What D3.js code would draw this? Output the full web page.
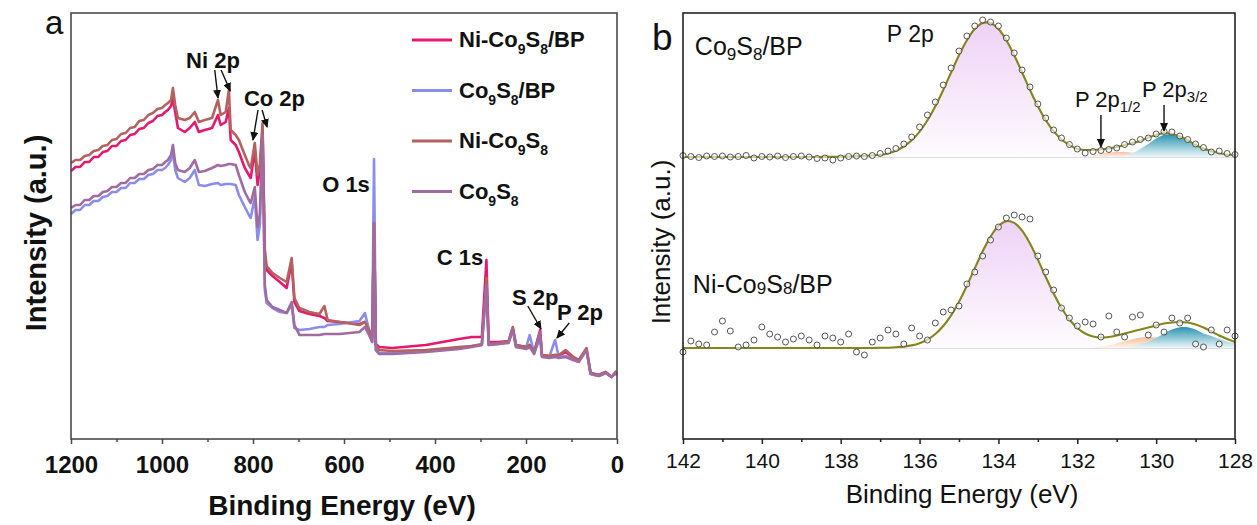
<!DOCTYPE html>
<html>
<head>
<meta charset="utf-8">
<script src="https://cdn.jsdelivr.net/npm/d3@7.9.0/dist/d3.min.js"></script>
<style>
  body { margin: 0; background: #fff; }
  svg text { font-family: 'Liberation Sans', Arial, sans-serif; }
</style>
</head>
<body>
<svg id="chart" width="1257" height="525"></svg>
<script>
// ---------- panel a: survey spectra ----------
const surveyEnergy = [
  1200, 1190, 1180, 1170, 1160, 1150, 1140, 1130, 1120, 1110,
  1100, 1090, 1080, 1070, 1060, 1050, 1040, 1030, 1020, 1010,
  1000, 993, 987, 980, 976, 971, 965, 950, 939, 928,
  919, 906, 890, 877, 871, 860, 853, 849, 838, 831,
  818, 809, 805, 796, 790, 785, 779, 774, 770, 757,
  741, 726, 715, 709, 698, 676, 654, 643, 636, 610,
  566, 554, 545, 538, 534, 530, 523, 494, 420, 347,
  319, 297, 287, 282, 260, 238, 229, 222, 200, 192,
  182, 169, 165, 149, 136, 128, 113, 96, 84, 67,
  58, 40, 25, 12, 3, 0
];
const niCoBP = [
  268, 272, 272, 277, 277, 282, 282, 287, 288, 293,
  293, 298, 299, 304, 305, 310, 311, 316, 318, 323,
  324, 327, 329, 333, 341, 327, 311, 307, 311, 317,
  307, 309, 311, 324, 314, 317, 331, 299, 294, 287,
  271, 264, 261, 289, 254, 269, 309, 184, 169, 163,
  157, 151, 177, 137, 128, 125, 123, 121, 118, 117,
  115, 117, 109, 101, 216, 95, 92, 91, 94, 100,
  102, 102, 179, 97, 97, 98, 111, 94, 92, 94,
  87, 109, 84, 83, 84, 83, 87, 81, 79, 89,
  66, 64, 67, 62, 67, 64
];
const coBP = [
  225, 229, 229, 234, 234, 238, 238, 242, 243, 247,
  247, 251, 251, 256, 256, 260, 260, 264, 265, 269,
  269, 271, 274, 279, 289, 269, 261, 257, 261, 269,
  254, 253, 255, 256, 254, 255, 255, 255, 254, 244,
  232, 224, 221, 242, 199, 214, 299, 149, 136, 131,
  127, 126, 135, 111, 109, 110, 112, 112, 114, 115,
  118, 126, 109, 97, 280, 89, 86, 86, 88, 91,
  93, 94, 154, 94, 95, 97, 109, 92, 91, 104,
  86, 101, 83, 82, 99, 82, 83, 79, 78, 89,
  65, 63, 66, 62, 66, 64
];
const niCo = [
  276, 279, 279, 283, 284, 288, 289, 293, 294, 299,
  300, 305, 306, 311, 312, 318, 319, 324, 326, 330,
  331, 334, 336, 339, 351, 334, 321, 319, 321, 327,
  317, 319, 321, 339, 324, 327, 349, 309, 304, 299,
  284, 274, 271, 296, 264, 274, 316, 189, 173, 166,
  161, 157, 181, 141, 131, 127, 125, 133, 119, 117,
  114, 117, 109, 101, 216, 94, 89, 88, 89, 92,
  93, 95, 161, 95, 96, 98, 112, 94, 92, 94,
  87, 107, 84, 83, 84, 84, 89, 82, 79, 91,
  66, 64, 67, 62, 67, 64
];
const co = [
  231, 234, 234, 239, 239, 243, 243, 247, 248, 252,
  252, 256, 256, 261, 261, 265, 265, 269, 270, 274,
  274, 277, 279, 284, 294, 276, 269, 267, 271, 279,
  267, 268, 271, 274, 273, 274, 275, 275, 274, 264,
  247, 239, 236, 252, 212, 224, 304, 154, 139, 132,
  129, 126, 137, 114, 104, 104, 104, 105, 105, 105,
  107, 112, 104, 97, 216, 89, 85, 85, 87, 90,
  92, 94, 154, 94, 95, 96, 110, 92, 90, 92,
  85, 107, 82, 81, 82, 81, 82, 79, 77, 89,
  65, 63, 66, 62, 66, 64
];
const surveyNames = ['Ni-Co9S8/BP', 'Co9S8/BP', 'Ni-Co9S8', 'Co9S8'];
const surveyTicks = [1200, 1000, 800, 600, 400, 200, 0];
const surveyMinor = [1100, 900, 700, 500, 300, 100];

// ---------- panel b: P 2p high resolution ----------
const bindingE = [
  142, 141.8, 141.6, 141.4, 141.2, 141, 140.8, 140.6, 140.4, 140.2,
  140, 139.8, 139.6, 139.4, 139.2, 139, 138.8, 138.6,
  138.4, 138.2,
  138, 137.8, 137.6, 137.4, 137.2, 137, 136.8, 136.6, 136.4, 136.2,
  136, 135.8, 135.6, 135.4, 135.2, 135, 134.8, 134.6, 134.4, 134.2,
  134, 133.8, 133.6, 133.4, 133.2, 133, 132.8, 132.6, 132.4, 132.2,
  132, 131.8, 131.6, 131.4, 131.2, 131, 130.8, 130.6, 130.4, 130.2,
  130, 129.8, 129.6, 129.4, 129.2, 129, 128.8, 128.6, 128.4, 128.2,
  128
];
const topOffset = 282;
const botOffset = 91;
const topFit = [
  0, 0, 0, 0, 0, 0, 0, 0, 0, 0, 0, 0, 0, 0, 0, 0, 0, 0,
  0.1, 0.2,
  0.3, 0.5, 0.8, 1.2, 1.5, 2.2, 3.6, 6.3, 10.5, 16.7,
  25.4, 36.8, 50.8, 67, 84.5, 101.7, 116.8, 128, 134, 134,
  128, 116.8, 101.7, 84.5, 67, 50.8, 36.8, 25.8, 17.5, 12,
  8, 7, 7, 7.5, 8.5, 10, 12, 14, 16, 19.5,
  22, 24, 23, 20.5, 17, 12, 8.5, 6, 4, 2.5,
  2
];
const topMain = [
  0, 0, 0, 0, 0, 0, 0, 0, 0, 0, 0, 0, 0, 0, 0, 0, 0, 0,
  0.1, 0.2,
  0.3, 0.5, 0.8, 1.2, 1.5, 2.2, 3.6, 6.3, 10.5, 16.7,
  25.4, 36.8, 50.8, 67, 84.5, 101.7, 116.8, 128, 134, 134,
  128, 116.8, 101.7, 84.5, 67, 50.8, 36.8, 25.4, 16.7, 10.5,
  6.3, 3.6, 2, 1, 0.5, 0.2, 0, 0, 0, 0,
  0, 0, 0, 0, 0, 0, 0, 0, 0, 0,
  0
];
const topP12 = [
  0, 0, 0, 0, 0, 0, 0, 0, 0, 0, 0, 0, 0, 0, 0, 0, 0, 0,
  0, 0,
  0, 0, 0, 0, 0, 0, 0, 0, 0, 0,
  0, 0, 0, 0, 0, 0, 0, 0, 0, 0,
  0, 0, 0, 0, 0, 0, 0, 0, 0, 0,
  0, 0.5, 1.5, 3, 4.3, 5, 5, 4.2, 3, 1.8,
  0.9, 0.4, 0, 0, 0, 0, 0, 0, 0, 0,
  0
];
const topP32 = [
  0, 0, 0, 0, 0, 0, 0, 0, 0, 0, 0, 0, 0, 0, 0, 0, 0, 0,
  0, 0,
  0, 0, 0, 0, 0, 0, 0, 0, 0, 0,
  0, 0, 0, 0, 0, 0, 0, 0, 0, 0,
  0, 0, 0, 0, 0, 0, 0, 0, 0, 0,
  0, 0, 0, 0, 0, 0.5, 1.5, 4, 8, 13,
  18.5, 22, 22.5, 20, 16.5, 11.5, 8, 5.5, 3.5, 2,
  1.5
];
const topPts = [
  1.5, 0.5, -0.5, 1, 0.5, 1, 0, 0.5, 1.5, -1, 0.5, 0, 1, -0.5, 0.5, 1, 0, -1.5,
  -1, -3,
  -1, 0.5, 1, 0.5, 1.5, 3.5, 6, 8.5, 13, 20,
  30, 42, 55, 72, 89, 106, 121, 131, 137, 135,
  131, 119, 104, 87, 70, 53, 39, 27, 19, 12.5,
  8, 4, 5.5, 6.5, 7.5, 9, 12.5, 15, 17.5, 19,
  23, 25.5, 25, 21, 17.5, 13, 9.5, 5, 6, 3.5,
  2.5
];
const botFit = [
  0, 0, 0, 0, 0, 0, 0, 0, 0, 0, 0, 0, 0, 0, 0, 0, 0, 0,
  0, 0,
  0, 0, 0, 0, 0, 0.2, 0.3, 0.7, 1.4, 2.6,
  4.8, 8.4, 14, 22, 32.7, 46.3, 62.3, 79.7, 96.7, 111.4,
  122, 126.8, 125.2, 117.3, 104.5, 88.4, 71, 54.5, 40, 28.5,
  20, 14.5, 11.5, 10.5, 11, 12.5, 14.5, 16.5, 18.5, 20.5,
  22.5, 24.5, 25.5, 26, 25.5, 23.5, 20.5, 16.5, 12.5, 9,
  6
];
const botMain = [
  0, 0, 0, 0, 0, 0, 0, 0, 0, 0, 0, 0, 0, 0, 0, 0, 0, 0,
  0, 0,
  0, 0, 0, 0, 0, 0.2, 0.3, 0.7, 1.4, 2.6,
  4.8, 8.4, 14, 22, 32.7, 46.3, 62.3, 79.7, 96.7, 111.4,
  122, 126.8, 125.2, 117.3, 104.5, 88.4, 70.9, 54.1, 39.2, 26.9,
  17.6, 10.9, 6.4, 3.6, 1.9, 1, 0.5, 0.2, 0, 0,
  0, 0, 0, 0, 0, 0, 0, 0, 0, 0,
  0
];
const botP12 = [
  0, 0, 0, 0, 0, 0, 0, 0, 0, 0, 0, 0, 0, 0, 0, 0, 0, 0,
  0, 0,
  0, 0, 0, 0, 0, 0, 0, 0, 0, 0,
  0, 0, 0, 0, 0, 0, 0, 0, 0, 0,
  0, 0, 0, 0, 0, 0, 0, 0, 0, 0,
  0, 0, 0.7, 1.5, 2.7, 4.5, 6.7, 8.8, 10.4, 11,
  10.4, 8.8, 6.7, 4.5, 2.7, 1.5, 0.7, 0.3, 0.1, 0,
  0
];
const botP32 = [
  0, 0, 0, 0, 0, 0, 0, 0, 0, 0, 0, 0, 0, 0, 0, 0, 0, 0,
  0, 0,
  0, 0, 0, 0, 0, 0, 0, 0, 0, 0,
  0, 0, 0, 0, 0, 0, 0, 0, 0, 0,
  0, 0, 0, 0, 0, 0, 0, 0, 0, 0,
  0, 0, 0, 0, 0, 0, 0, 1.7, 3.5, 6.3,
  10.1, 14.5, 18.4, 20.7, 20.7, 18.4, 14.5, 12, 9, 6.5,
  4.5
];
const botPts = [
  -4, 7, 4, 3, 16, 27, 17, 1, 3, 8, 21, 14, 11, 6, 9, 12, 8, 3,
  12, 10,
  6, 14, -4, -7, 6, 10, 18, 14, 4, 20,
  12, 8, 25, 36, 38, 42, 64, 76, 92, 108,
  121, 130, 133, 131, 129, 92, 76, 58, 40, 30,
  22, 26, 24, 11, 32, 16, 11, 31, 33, 13,
  23, 16, 30, 25, 30, 4, 1, 18, 4, 18,
  12
];
const fineTicks = [142, 140, 138, 136, 134, 132, 130, 128];
const fineMinor = [141, 139, 137, 135, 133, 131, 129];

// annotations, in data units (eV, intensity)
const surveyLabels = [
  { text: 'Ni 2p', e: 947, i: 371 },
  { text: 'Co 2p', e: 820, i: 333 },
  { text: 'O 1s', e: 648, i: 247 },
  { text: 'C 1s', e: 396, i: 174 },
  { text: 'S 2p', e: 231, i: 134 },
  { text: 'P 2p', e: 132, i: 119 }
];
const surveyArrows = [
  [884, 369, 877, 341],
  [870, 369, 850, 348],
  [789, 329, 800, 299],
  [780, 329, 769, 312],
  [196, 133, 167, 110],
  [105, 116, 132, 101]
];

const svg = d3.select('#chart');
const font = "'Liberation Sans', Arial, sans-serif";

const defs = svg.append('defs');
defs.append('marker')
  .attr('id', 'head')
  .attr('markerUnits', 'userSpaceOnUse')
  .attr('markerWidth', 9).attr('markerHeight', 8)
  .attr('refX', 8).attr('refY', 4)
  .attr('orient', 'auto')
  .append('path').attr('d', 'M0,0 L9,4 L0,8 Z').attr('fill', '#111');

function grad(id, top, bottom) {
  const g = defs.append('linearGradient').attr('id', id)
    .attr('x1', 0).attr('y1', 0).attr('x2', 0).attr('y2', 1);
  g.append('stop').attr('offset', '0%').attr('stop-color', top);
  g.append('stop').attr('offset', '100%').attr('stop-color', bottom);
}
grad('gMain', '#eed2f6', '#fefbfe');
grad('gP12', '#f6bf9a', '#fff5ee');
grad('gP32', '#2a94b0', '#eef8fa');

// writes a chemical formula; digit groups become subscripts
function formula(text, str, size, subSize, drop) {
  const parts = str.split(/(\d+)/);
  let shift = 0;
  parts.forEach((p, i) => {
    if (!p) return;
    const sub = i % 2 === 1;
    const target = sub ? drop : 0;
    text.append('tspan')
      .attr('dy', target - shift)
      .attr('font-size', sub ? subSize : size)
      .text(p);
    shift = target;
  });
}

function bottomAxis(scale, y, major, minor, opts) {
  const gMinor = svg.append('g').attr('transform', `translate(0,${y})`)
    .call(d3.axisBottom(scale).tickValues(minor).tickSize(3).tickFormat(''));
  const gMajor = svg.append('g').attr('transform', `translate(0,${y})`)
    .call(d3.axisBottom(scale).tickValues(major).tickSize(5)
      .tickPadding(opts.pad).tickFormat(d3.format('d')));
  [gMinor, gMajor].forEach(g => {
    g.select('.domain').remove();
    g.selectAll('.tick line').attr('stroke', opts.color).attr('stroke-width', 1.5);
  });
  gMajor.attr('font-family', font).attr('font-size', opts.size)
    .attr('font-weight', opts.weight);
  gMajor.selectAll('.tick text').attr('fill', '#111');
}

// ================= panel a =================
const xA = d3.scaleLinear().domain([1200, 0]).range([71, 617]);
const yA = d3.scaleLinear().domain([0, 426]).range([439, 13]);

const surveys = [
  { name: surveyNames[0], values: niCoBP, color: '#e5186d' },
  { name: surveyNames[1], values: coBP, color: '#8b8ded' },
  { name: surveyNames[2], values: niCo, color: '#b3625e' },
  { name: surveyNames[3], values: co, color: '#a06ba0' }
];

const surveyLine = d3.line()
  .x((d, i) => xA(surveyEnergy[i]))
  .y(d => yA(d));

// draw order: pink, blue, brown, mauve
[0, 1, 2, 3].forEach(k => {
  svg.append('path')
    .datum(surveys[k].values)
    .attr('fill', 'none')
    .attr('stroke', surveys[k].color)
    .attr('stroke-width', 2.6)
    .attr('stroke-linejoin', 'round')
    .attr('d', surveyLine);
});

svg.append('rect')
  .attr('x', xA(1200)).attr('y', yA(426))
  .attr('width', xA(0) - xA(1200)).attr('height', yA(0) - yA(426))
  .attr('fill', 'none').attr('stroke', '#4a4a4a').attr('stroke-width', 1.6);

bottomAxis(xA, yA(0), surveyTicks, surveyMinor,
  { pad: 12, size: 24, weight: 'bold', color: '#4a4a4a' });

// peak labels and arrows
svg.append('g').selectAll('text')
  .data(surveyLabels).enter().append('text')
  .attr('x', d => xA(d.e)).attr('y', d => yA(d.i))
  .attr('font-size', 22).attr('font-weight', 'bold').attr('fill', '#111')
  .text(d => d.text);

svg.append('g').selectAll('line')
  .data(surveyArrows).enter().append('line')
  .attr('x1', d => xA(d[0])).attr('y1', d => yA(d[1]))
  .attr('x2', d => xA(d[2])).attr('y2', d => yA(d[3]))
  .attr('stroke', '#111').attr('stroke-width', 1.4)
  .attr('marker-end', 'url(#head)');

// legend
const legend = svg.append('g').attr('transform', 'translate(412, 40)');
surveys.forEach((s, i) => {
  const row = legend.append('g').attr('transform', `translate(0, ${i * 50.5})`);
  row.append('line').attr('x1', 0).attr('x2', 40).attr('y1', 0).attr('y2', 0)
    .attr('stroke', s.color).attr('stroke-width', 3);
  const t = row.append('text').attr('x', 47).attr('y', 7)
    .attr('font-weight', 'bold').attr('fill', '#111');
  formula(t, s.name, 22, 14, 7);
});

// axis titles, panel letter
svg.append('text')
  .attr('x', (xA(1200) + xA(0)) / 2 - 2).attr('y', 515)
  .attr('text-anchor', 'middle').attr('font-size', 28).attr('font-weight', 'bold')
  .attr('fill', '#111').text('Binding Energy (eV)');
svg.append('text')
  .attr('transform', `translate(46, ${(yA(0) + yA(426)) / 2 + 7}) rotate(-90)`)
  .attr('text-anchor', 'middle').attr('font-size', 29).attr('font-weight', 'bold')
  .attr('fill', '#111').text('Intensity (a.u.)');
svg.append('text').attr('x', 45).attr('y', 34)
  .attr('font-size', 33).attr('fill', '#111').text('a');

// ================= panel b =================
const xB = d3.scaleLinear().domain([142, 128]).range([683, 1235]);
const yB = d3.scaleLinear().domain([0, 426]).range([439, 13]);

function spectrum(offset, main, p12, p32, fit, pts) {
  const g = svg.append('g');
  g.append('line')
    .attr('x1', xB(142)).attr('x2', xB(128))
    .attr('y1', yB(offset)).attr('y2', yB(offset))
    .attr('stroke', '#d4d4d4').attr('stroke-width', 1.3);

  const area = d3.area()
    .x((d, i) => xB(bindingE[i]))
    .y0(yB(offset))
    .y1(d => yB(offset + d))
    .curve(d3.curveCatmullRom);
  [[main, 'gMain'], [p12, 'gP12'], [p32, 'gP32']].forEach(([vals, id]) => {
    g.append('path').datum(vals).attr('fill', `url(#${id})`).attr('d', area);
  });

  const line = d3.line()
    .x((d, i) => xB(bindingE[i]))
    .y(d => yB(offset + d))
    .curve(d3.curveCatmullRom);
  g.append('path').datum(fit)
    .attr('fill', 'none').attr('stroke', '#85851c').attr('stroke-width', 2.1)
    .attr('d', line);

  g.selectAll('circle').data(pts).enter().append('circle')
    .attr('cx', (d, i) => xB(bindingE[i]))
    .attr('cy', d => yB(offset + d))
    .attr('r', 3)
    .attr('fill', '#fff').attr('fill-opacity', 0.6)
    .attr('stroke', '#444').attr('stroke-width', 0.9);
}

spectrum(topOffset, topMain, topP12, topP32, topFit, topPts);
spectrum(botOffset, botMain, botP12, botP32, botFit, botPts);

svg.append('rect')
  .attr('x', xB(142)).attr('y', yB(426))
  .attr('width', xB(128) - xB(142)).attr('height', yB(0) - yB(426))
  .attr('fill', 'none').attr('stroke', '#222').attr('stroke-width', 1.6);

bottomAxis(xB, yB(0), fineTicks, fineMinor,
  { pad: 9, size: 21, weight: 'normal', color: '#222' });

// sample names and peak labels
const t1 = svg.append('text').attr('x', xB(141.7)).attr('y', yB(384)).attr('fill', '#111');
formula(t1, 'Co9S8/BP', 25, 17, 5);
const t2 = svg.append('text').attr('x', xB(141.75)).attr('y', yB(146)).attr('fill', '#111');
formula(t2, 'Ni-Co9S8/BP', 25, 17, 1);

svg.append('text').attr('x', xB(136.83)).attr('y', yB(397))
  .attr('font-size', 23).attr('fill', '#111').text('P 2p');

const splitLabels = [
  { sub: '1/2', e: 132.06, i: 332, arrow: [131.4, 324, 292] },
  { sub: '3/2', e: 130.36, i: 342, arrow: [129.8, 334, 308] }
];
splitLabels.forEach(d => {
  const t = svg.append('text').attr('x', xB(d.e)).attr('y', yB(d.i)).attr('fill', '#111');
  t.append('tspan').attr('font-size', 22).text('P 2p');
  t.append('tspan').attr('font-size', 15).attr('dy', 5).text(d.sub);
  svg.append('line')
    .attr('x1', xB(d.arrow[0])).attr('x2', xB(d.arrow[0]))
    .attr('y1', yB(d.arrow[1])).attr('y2', yB(d.arrow[2]))
    .attr('stroke', '#111').attr('stroke-width', 1.4)
    .attr('marker-end', 'url(#head)');
});

svg.append('text')
  .attr('x', 962).attr('y', 503)
  .attr('text-anchor', 'middle').attr('font-size', 26)
  .attr('fill', '#111').text('Binding Energy (eV)');
svg.append('text')
  .attr('transform', 'translate(670, 242) rotate(-90)')
  .attr('text-anchor', 'middle').attr('font-size', 26)
  .attr('fill', '#111').text('Intensity (a.u.)');
svg.append('text').attr('x', 652).attr('y', 50)
  .attr('font-size', 37).attr('fill', '#111').text('b');
</script>
</body>
</html>
